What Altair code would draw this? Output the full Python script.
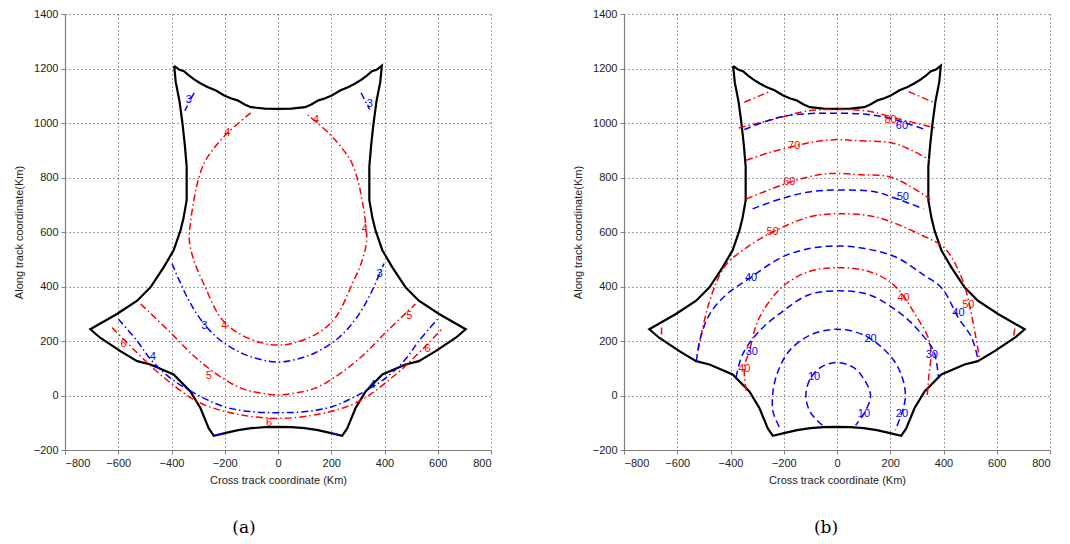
import altair as alt
import pandas as pd

X_TICKS = [-800, -600, -400, -200, 0, 200, 400, 600, 800]
Y_TICKS = [-200, 0, 200, 400, 600, 800, 1000, 1200, 1400]

# Coverage boundary (same in both panels), traced clockwise from the top-left tip
BOUND_X = [-390, -370, -353, -335, -315, -290, -265, -235, -202, -175, -152, -125, -102, -50, 0, 50, 102, 125,
           152, 175, 202, 235, 265, 290, 315, 335, 353, 370, 390,
           384, 370, 359, 350, 343, 343, 355, 366, 392, 429, 479, 529, 605, 705,
           668, 592, 529, 479, 392, 329, 291, 260, 241,
           191, 150, 100, 50, 0, -50, -100, -150, -191, -241,
           -260, -291, -329, -392, -479, -529, -592, -668, -705,
           -605, -529, -479, -429, -392, -366, -355, -343, -343, -350, -359, -370, -384, -390]
BOUND_Y = [1210, 1195, 1190, 1175, 1160, 1145, 1132, 1120, 1101, 1090, 1083, 1068, 1058, 1053, 1052, 1053, 1058, 1068,
           1083, 1090, 1101, 1120, 1132, 1145, 1160, 1175, 1190, 1195, 1210,
           1150, 1080, 1000, 920, 840, 717, 650, 607, 533, 471, 397, 348, 299, 243,
           212, 163, 126, 114, 77, 15, -47, -121, -148,
           -136, -127, -120, -116, -115, -116, -120, -127, -136, -148,
           -121, -47, 15, 77, 114, 126, 163, 212, 243,
           299, 348, 397, 471, 533, 607, 650, 717, 840, 920, 1000, 1080, 1150, 1210]

# ---- Panel (a) contours ----
A_RED4_X = [-103, -190, -241, -278, -303, -316, -328, -333, -316, -279, -216, -153, -65, 0, 65, 153, 216, 279, 316, 333, 328, 316, 303, 278, 241, 190, 103]
A_RED4_Y = [1037, 963, 907, 852, 778, 716, 640, 570, 496, 410, 286, 231, 194, 185, 194, 231, 286, 410, 496, 570, 640, 716, 778, 852, 907, 963, 1037]
A_BLUE3_X = [-398, -341, -291, -228, -140, -65, 0, 65, 140, 228, 291, 341, 398]
A_BLUE3_Y = [484, 360, 280, 212, 157, 132, 123, 132, 157, 212, 280, 360, 484]
A_BLUE3L_X = [-315, -350]
A_BLUE3L_Y = [1111, 1045]
A_BLUE3R_X = [312, 344]
A_BLUE3R_Y = [1111, 1050]
A_RED5_X = [-516, -404, -315, -228, -140, -65, 0, 65, 140, 228, 315, 404, 516]
A_RED5_Y = [336, 231, 144, 77, 27, 9, 2, 9, 27, 77, 144, 231, 336]
A_BLUE4_X = [-599, -529, -478, -404, -303, -203, -103, 0, 103, 203, 303, 404, 478, 529, 599]
A_BLUE4_Y = [280, 200, 132, 64, 3, -41, -59, -63, -59, -41, 3, 64, 132, 200, 280]
A_RED6_X = [-623, -567, -516, -442, -303, -166, 0, 166, 303, 442, 516, 567, 614]
A_RED6_Y = [249, 194, 144, 77, -22, -66, -84, -66, -22, 77, 144, 194, 243]
A_BLUEC1_X = [-232, -200]
A_BLUEC1_Y = [-146, -138]
A_BLUEC2_X = [200, 232]
A_BLUEC2_Y = [-138, -146]

A_LAB_TEXT = ["3", "3", "4", "4", "4", "4", "3", "3", "5", "5", "4", "4", "6", "6", "6"]
A_LAB_X = [-335, 345, -190, 143, 325, -202, -277, 381, -260, 493, -470, 355, -580, 562, -34]
A_LAB_Y = [1085, 1070, 963, 1010, 611, 255, 255, 447, 70, 293, 140, 40, 188, 169, -102]
A_LAB_COLOR = ["blue", "blue", "red", "red", "red", "red", "blue", "blue", "red", "red", "blue", "blue", "red", "red", "red"]

# ---- Panel (b) contours ----
B_BLUE10_X = [-55, -100, -117, -100, -60, 0, 60, 100, 126, 105, 70]
B_BLUE10_Y = [-109, -62, 0, 62, 104, 121, 104, 62, 0, -60, -109]
B_BLUE20_X = [-217, -240, -242, -225, -179, -100, 0, 100, 194, 240, 257, 245, 219]
B_BLUE20_Y = [-115, -60, 0, 80, 164, 222, 243, 222, 152, 80, 0, -60, -127]
B_RED40_X = [-341, -348, -329, -292, -204, -105, 0, 120, 213, 294, 350, 344, 338]
B_RED40_Y = [18, 103, 164, 285, 400, 455, 469, 455, 406, 297, 188, 60, -6]
B_BLUE30_X = [-379, -354, -292, -204, -105, 0, 120, 244, 319, 363, 381]
B_BLUE30_Y = [67, 152, 236, 309, 370, 384, 370, 297, 224, 164, 67]
B_BLUE40_X = [-528, -516, -479, -416, -329, -204, -100, 0, 100, 219, 329, 394, 456, 506, 531]
B_BLUE40_Y = [127, 200, 297, 370, 430, 509, 540, 549, 540, 509, 440, 394, 285, 212, 127]
B_RED50_X = [-522, -479, -422, -354, -242, -105, 0, 145, 319, 406, 469, 500, 537]
B_RED50_Y = [164, 345, 473, 533, 600, 655, 667, 655, 588, 539, 430, 321, 127]
B_RED60_X = [-341, -179, -55, 0, 90, 207, 350]
B_RED60_Y = [721, 782, 812, 815, 810, 800, 721]
B_RED60L_X = [-659, -659]
B_RED60L_Y = [250, 205]
B_RED60R_X = [668, 662]
B_RED60R_Y = [245, 212]
B_BLUE50_X = [-317, -204, -105, 0, 145, 219, 325]
B_BLUE50_Y = [685, 724, 747, 754, 747, 724, 685]
B_RED70_X = [-341, -250, -161, -80, 0, 80, 207, 280, 350]
B_RED70_Y = [863, 893, 915, 932, 939, 935, 927, 900, 863]
B_BLUE60_X = [-348, -204, 0, 169, 325]
B_BLUE60_Y = [976, 1024, 1036, 1024, 978]
B_RED80_X = [-369, -219, -120, 0, 120, 219, 369]
B_RED80_Y = [982, 1018, 1043, 1050, 1043, 1018, 982]
B_RED90L_X = [-348, -254]
B_RED90L_Y = [1076, 1115]
B_RED90R_X = [269, 363]
B_RED90R_Y = [1115, 1076]

B_LAB_TEXT = ["10", "10", "20", "20", "40", "40", "30", "30", "40", "40", "50", "50", "50", "60", "70", "80", "60"]
B_LAB_X = [-86, 101, 126, 244, -348, 250, -320, 356, -323, 456, -242, 493, 247, -179, -161, 201, 244]
B_LAB_Y = [67, -67, 209, -67, 98, 356, 160, 147, 430, 303, 600, 333, 727, 782, 915, 1012, 988]
B_LAB_COLOR = ["blue", "blue", "blue", "blue", "red", "red", "blue", "blue", "blue", "blue", "red", "red", "blue", "red", "red", "red", "blue"]

COLORS = {"red": "#ff0000", "blue": "#0000ff"}
FONT = "Liberation Sans"


def curves(items):
    rows = []
    for key, color, xs, ys in items:
        for i, (x, y) in enumerate(zip(xs, ys)):
            rows.append({"key": key, "color": color, "x": x, "y": y, "i": i})
    return pd.DataFrame(rows)


bound_df = pd.DataFrame({"x": BOUND_X, "y": BOUND_Y, "i": list(range(len(BOUND_X)))})

a_red = curves([("r4", "red", A_RED4_X, A_RED4_Y), ("r5", "red", A_RED5_X, A_RED5_Y), ("r6", "red", A_RED6_X, A_RED6_Y)])
a_blue = curves([("b3", "blue", A_BLUE3_X, A_BLUE3_Y), ("b3l", "blue", A_BLUE3L_X, A_BLUE3L_Y),
                 ("b3r", "blue", A_BLUE3R_X, A_BLUE3R_Y), ("b4", "blue", A_BLUE4_X, A_BLUE4_Y),
                 ("c1", "blue", A_BLUEC1_X, A_BLUEC1_Y), ("c2", "blue", A_BLUEC2_X, A_BLUEC2_Y)])
a_lab = pd.DataFrame({"t": A_LAB_TEXT, "x": A_LAB_X, "y": A_LAB_Y, "c": A_LAB_COLOR})

b_red = curves([("r40", "red", B_RED40_X, B_RED40_Y), ("r50", "red", B_RED50_X, B_RED50_Y),
                ("r60", "red", B_RED60_X, B_RED60_Y), ("r60l", "red", B_RED60L_X, B_RED60L_Y),
                ("r60r", "red", B_RED60R_X, B_RED60R_Y), ("r70", "red", B_RED70_X, B_RED70_Y),
                ("r80", "red", B_RED80_X, B_RED80_Y), ("r90l", "red", B_RED90L_X, B_RED90L_Y),
                ("r90r", "red", B_RED90R_X, B_RED90R_Y)])
b_blue = curves([("b10", "blue", B_BLUE10_X, B_BLUE10_Y), ("b20", "blue", B_BLUE20_X, B_BLUE20_Y),
                 ("b30", "blue", B_BLUE30_X, B_BLUE30_Y), ("b40", "blue", B_BLUE40_X, B_BLUE40_Y),
                 ("b50", "blue", B_BLUE50_X, B_BLUE50_Y), ("b60", "blue", B_BLUE60_X, B_BLUE60_Y)])
b_lab = pd.DataFrame({"t": B_LAB_TEXT, "x": B_LAB_X, "y": B_LAB_Y, "c": B_LAB_COLOR})

W, H = 426, 436
DASHDOT = [7, 3, 1.5, 3]
DASHED = [7, 4]


def panel(red_df, blue_df, lab_df, blue_dash, caption, cap_x):
    xenc = alt.X("x:Q", scale=alt.Scale(domain=[-800, 800], nice=False, zero=False),
                 axis=alt.Axis(values=X_TICKS, format="d", title="Cross track coordinate (Km)"))
    yenc = alt.Y("y:Q", scale=alt.Scale(domain=[-200, 1400], nice=False, zero=False),
                 axis=alt.Axis(values=Y_TICKS, format="d", title="Along track coordinate(Km)"))
    bound = alt.Chart(bound_df).mark_line(color="black", strokeWidth=2.2).encode(
        x=xenc, y=yenc, order="i:Q")
    red = alt.Chart(red_df).mark_line(color=COLORS["red"], strokeWidth=1.5, strokeDash=DASHDOT,
                                       interpolate="catmull-rom").encode(
        x="x:Q", y="y:Q", detail="key:N", order="i:Q")
    blue = alt.Chart(blue_df).mark_line(color=COLORS["blue"], strokeWidth=1.5, strokeDash=blue_dash,
                                         interpolate="catmull-rom").encode(
        x="x:Q", y="y:Q", detail="key:N", order="i:Q")
    labs = alt.Chart(lab_df).mark_text(font=FONT, fontSize=11).encode(
        x="x:Q", y="y:Q", text="t:N",
        color=alt.Color("c:N", scale=alt.Scale(domain=["red", "blue"], range=[COLORS["red"], COLORS["blue"]]),
                        legend=None))
    cap = alt.Chart(pd.DataFrame({"t": [caption]})).mark_text(
        font="DejaVu Serif", fontSize=17, color="black").encode(
        text="t:N", x=alt.value(cap_x), y=alt.value(514))
    return alt.layer(bound, red, blue, labs, cap).properties(width=W, height=H)


pa = panel(a_red, a_blue, a_lab, DASHDOT, "(a)", 179)
pb = panel(b_red, b_blue, b_lab, DASHED, "(b)", 202)

chart = alt.hconcat(pa, pb, spacing=80).properties(
    padding={"left": 13, "top": 8, "right": 5, "bottom": 5}
).configure_view(stroke=None).configure_axis(
    grid=True, gridColor="black", gridDash=[1, 3], gridOpacity=0.75, gridWidth=1,
    domainColor="#808080", domainWidth=1.2, tickColor="#808080", tickSize=4,
    labelFont=FONT, labelFontSize=11, labelColor="#222222", labelPadding=3,
    titleFont=FONT, titleFontSize=11, titleFontWeight="normal", titleColor="#222222",
).configure_axisY(titlePadding=9).configure_axisX(titlePadding=6)

chart.save("out.html", embed_options={"renderer": "svg", "actions": False})
